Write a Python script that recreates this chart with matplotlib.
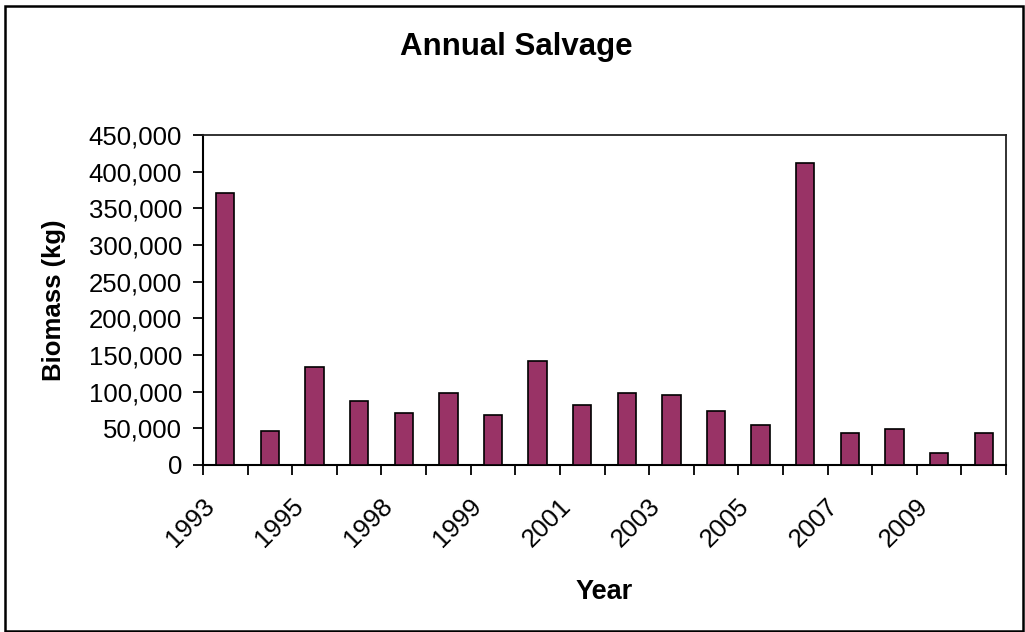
import matplotlib
matplotlib.use("Agg")
import matplotlib.pyplot as plt
from matplotlib.patches import Rectangle
from matplotlib.ticker import FuncFormatter, FixedLocator
from matplotlib.transforms import ScaledTranslation
import numpy as np

plt.rcParams['font.family'] = ['Liberation Sans', 'DejaVu Sans']

# ---- data ----
years = ["1993", "1994", "1995", "1996", "1998", "1998", "1999", "2000", "2001",
         "2002", "2003", "2004", "2005", "2006", "2007", "2008", "2009", "2010"]
biomass = [371000, 46500, 134000, 87500, 71500, 98000, 68500, 142000, 82000,
           98000, 95500, 74000, 55000, 412000, 43500, 49000, 16500, 43500]
y_ticks = [0, 50000, 100000, 150000, 200000, 250000, 300000, 350000, 400000, 450000]

W, H = 1025, 632
fig = plt.figure(figsize=(W / 100, H / 100), dpi=100)
ax = fig.add_axes([203 / W, 1 - 465 / H, (1006 - 203) / W, (465 - 135) / H])

x = np.arange(len(years))
ax.bar(x, biomass, width=0.41, color="#993366", edgecolor="black", linewidth=1.2, zorder=3)

ax.set_xlim(-0.5, len(years) - 0.5)
ax.set_ylim(0, 450000)
ax.yaxis.set_major_locator(FixedLocator(y_ticks))
ax.yaxis.set_major_formatter(FuncFormatter(lambda v, p: f"{int(v):,}"))

# category boundaries ticks (minor), labels at every other category (major)
ax.xaxis.set_minor_locator(FixedLocator(np.arange(-0.5, len(years), 1.0)))
ax.set_xticks(x[::2])
ax.tick_params(axis="x", which="major", length=0, pad=14)
ax.tick_params(axis="x", which="minor", length=7, width=1.3, direction="out")
ax.tick_params(axis="y", which="major", length=7, width=1.3, direction="out",
               labelsize=18.5, pad=8)
ax.set_xticklabels(years[::2], rotation=45, ha="right", va="center",
                   rotation_mode="anchor", fontsize=18.5)
shift = ScaledTranslation(-15 / 100, -18 / 100, fig.dpi_scale_trans)
for lab in ax.get_xticklabels():
    lab.set_transform(lab.get_transform() + shift)

for side in ["left", "bottom"]:
    ax.spines[side].set_linewidth(1.5)
for side in ["top", "right"]:
    ax.spines[side].set_linewidth(1.3)
    ax.spines[side].set_color("#222222")

ax.set_ylabel("Biomass (kg)", fontsize=18.5, fontweight="bold")
ax.yaxis.set_label_coords(-0.171, 0.5)
ax.set_xlabel("Year", fontsize=19.5, fontweight="bold")
ax.xaxis.set_label_coords(0.5, -0.345)

fig.text(0.5035, 1 - 47 / H, "Annual Salvage", fontsize=22.5, fontweight="bold",
         ha="center", va="center")

fig.patches.append(Rectangle((5 / W, 1.5 / H), 1018 / W, 624.5 / H, transform=fig.transFigure,
                             fill=False, edgecolor="black", linewidth=1.8))

fig.savefig("out.png", dpi=100)
